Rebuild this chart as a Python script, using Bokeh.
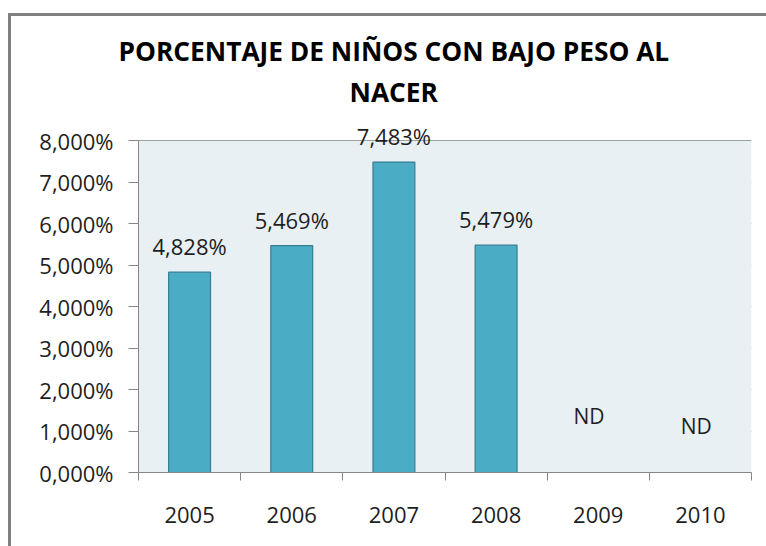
from bokeh.plotting import figure
from bokeh.models import (Range1d, FixedTicker, Title, LabelSet, Label, ColumnDataSource,
                          BoxAnnotation)
from bokeh.core.properties import value
from bokeh.embed import file_html
from bokeh.resources import INLINE

# ---- data ----
years = ["2005", "2006", "2007", "2008", "2009", "2010"]
values = [4.828, 5.469, 7.483, 5.479, None, None]
value_labels = ["4,828%", "5,469%", "7,483%", "5,479%", "ND", "ND"]
y_ticks = [0, 1, 2, 3, 4, 5, 6, 7, 8]
y_tick_labels = ["0,000%", "1,000%", "2,000%", "3,000%", "4,000%",
                 "5,000%", "6,000%", "7,000%", "8,000%"]
title_line1 = "PORCENTAJE DE NIÑOS CON BAJO PESO AL"
title_line2 = "NACER"

GRAY = "#868686"
FONT = "Open Sans"
TXT = "#1e1e1e"

centers = [i + 0.5 for i in range(len(years))]
bounds = [i for i in range(len(years) + 1)]

p = figure(width=766, height=546, output_backend="svg", toolbar_location=None,
           x_range=Range1d(0, len(years)), y_range=Range1d(0, 8.63),
           min_border_left=138, min_border_top=114, min_border_right=15,
           min_border_bottom=74)
# chart-area border (top and left edges), drawn behind a transparent canvas border
p.styles = {"box-shadow": "inset 8px 13px 0px 0px #ffffff, inset 11px 16px 0px 0px #808080"}
p.background_fill_color = "white"
p.border_fill_color = "white"
p.border_fill_alpha = 0.0
p.outline_line_color = None

# plot-area background (0 .. 8)
p.add_layout(BoxAnnotation(bottom=0, top=y_ticks[-1], fill_color="#e8f0f4",
                           fill_alpha=1.0, line_color=None, level="underlay"))

# bars
bar_x = [c for c, v in zip(centers, values) if v is not None]
bar_top = [v for v in values if v is not None]
p.vbar(x=bar_x, top=bar_top, width=0.41, bottom=0,
       fill_color="#4bacc6", line_color="#357d91", line_width=1.2)

# data labels
lab_src = ColumnDataSource(dict(x=bar_x, y=bar_top,
                                t=[l for l, v in zip(value_labels, values) if v is not None]))
p.add_layout(LabelSet(x="x", y="y", text="t", source=lab_src, y_offset=17,
                      text_align="center", text_baseline="alphabetic",
                      text_font=value(FONT), text_font_size="22px", text_color=TXT))

# ND labels
nd_pos = {4: (-0.09, 1.35), 5: (-0.04, 1.11)}
for i, (dx, yy) in nd_pos.items():
    p.add_layout(Label(x=centers[i] + dx, y=yy, text=value_labels[i],
                       text_align="center", text_baseline="middle",
                       text_font=FONT, text_font_size="21px", text_color=TXT))

# x axis
xa = p.xaxis[0]
xa.ticker = FixedTicker(ticks=centers, minor_ticks=bounds)
xa.major_label_overrides = {c: y for c, y in zip(centers, years)}
xa.major_tick_out = 0
xa.major_tick_in = 0
xa.minor_tick_out = 8
xa.minor_tick_in = 0
xa.minor_tick_line_color = GRAY
xa.axis_line_color = GRAY
xa.major_label_standoff = 26
xa.major_label_text_font = FONT
xa.major_label_text_font_size = "22px"
xa.major_label_text_color = TXT

# y axis
ya = p.yaxis[0]
ya.ticker = FixedTicker(ticks=y_ticks, minor_ticks=[])
ya.bounds = (y_ticks[0], y_ticks[-1])
ya.major_label_overrides = {t: l for t, l in zip(y_ticks, y_tick_labels)}
ya.major_tick_out = 10
ya.major_tick_in = 0
ya.major_tick_line_color = GRAY
ya.minor_tick_line_color = None
ya.axis_line_color = GRAY
ya.major_label_standoff = 15
ya.major_label_text_font = FONT
ya.major_label_text_font_size = "22px"
ya.major_label_text_color = TXT

p.xgrid.visible = False
p.ygrid.ticker = FixedTicker(ticks=y_ticks)
p.ygrid.grid_line_color = GRAY
p.ygrid.grid_line_width = 1

# titles (first added sits closest to the frame)
p.add_layout(Title(text=title_line2, align="left", offset=211, text_font=FONT,
                   text_font_size="26.3px", text_font_style="bold", text_color="black"), "above")
p.add_layout(Title(text=title_line1, align="left", offset=-20, text_font=FONT, standoff=-4,
                   text_font_size="26.3px", text_font_style="bold", text_color="black"), "above")

open("out.html", "w").write(file_html(p, INLINE))
